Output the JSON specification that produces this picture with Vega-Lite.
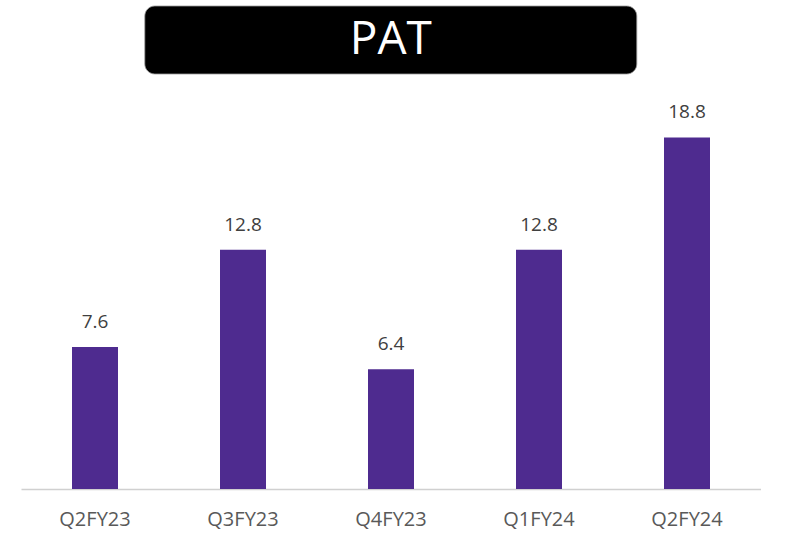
{
  "$schema": "https://vega.github.io/schema/vega-lite/v6.json",
  "background": "white",
  "padding": {"left": 21, "top": 5, "right": 0, "bottom": 6},
  "spacing": 28,
  "center": true,
  "config": {"view": {"stroke": null}, "font": "Open Sans"},
  "vconcat": [
    {
      "width": 492,
      "height": 68,
      "data": {"values": [{"title": "PAT"}]},
      "layer": [
        {"mark": {"type": "bar", "color": "black", "cornerRadius": 10, "stroke": "#9a9a9a", "strokeWidth": 0.8}, "encoding": {}},
        {"mark": {"type": "text", "color": "white", "fontSize": 46, "fontWeight": 500, "baseline": "middle", "align": "center", "font": "Open Sans"}, "encoding": {"text": {"field": "title"}}}
      ]
    },
    {
      "width": 740,
      "height": 374,
      "data": {"values": [
        {"quarter": "Q2FY23", "pat": 7.6},
        {"quarter": "Q3FY23", "pat": 12.8},
        {"quarter": "Q4FY23", "pat": 6.4},
        {"quarter": "Q1FY24", "pat": 12.8},
        {"quarter": "Q2FY24", "pat": 18.8}
      ]},
      "encoding": {
        "x": {"field": "quarter", "type": "nominal", "sort": null,
              "scale": {"paddingInner": 0, "paddingOuter": 0},
              "axis": {"title": null, "ticks": false, "labelAngle": 0, "labelFontSize": 20, "labelColor": "#595959", "labelFont": "Open Sans", "labelPadding": 20, "domainColor": "#d0d0d0", "domainWidth": 1.5, "grid": false}},
        "y": {"field": "pat", "type": "quantitative", "scale": {"domain": [0, 20], "nice": false}, "axis": null}
      },
      "layer": [
        {"mark": {"type": "bar", "size": 46, "color": "#4e2b8f"}},
        {"mark": {"type": "text", "baseline": "alphabetic", "dy": -19, "fontSize": 19, "color": "#404040", "font": "Open Sans"}, "encoding": {"text": {"field": "pat", "type": "quantitative", "format": ".1f"}}}
      ]
    }
  ]
}
